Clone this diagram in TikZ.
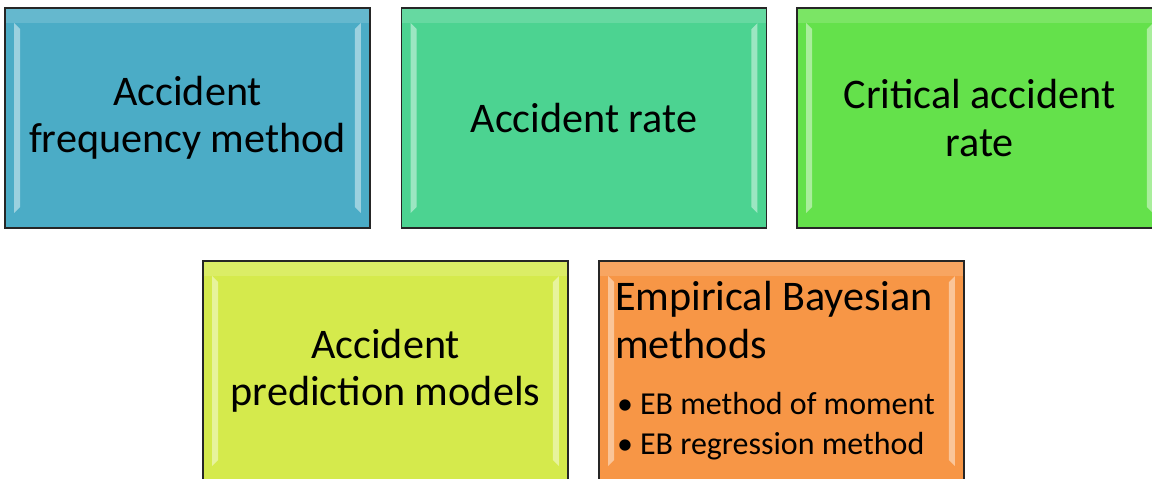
\documentclass[tikz,border=0pt]{standalone}
\usepackage{fontspec}
\setmainfont{Carlito}
\definecolor{freqblue}{RGB}{75,172,198}
\definecolor{rategreen}{RGB}{76,211,145}
\definecolor{critgreen}{RGB}{100,225,75}
\definecolor{predlime}{RGB}{213,234,76}
\definecolor{bayesorange}{RGB}{247,150,70}
\newcommand{\ebitem}{\hspace*{0.04cm}\makebox[0.46cm][l]{\textbullet}}
\tikzset{
tile/.style={
draw=black!85,
line width=1pt,
minimum width=7.3cm,
minimum height=4.4cm,
align=center,
font=\fontsize{24}{27}\selectfont,
path picture={
\fill[white,opacity=0.45]
([xshift=0.18cm,yshift=-0.3cm]path picture bounding box.north west) --
([xshift=0.3cm,yshift=-0.42cm]path picture bounding box.north west) --
([xshift=0.3cm,yshift=0.42cm]path picture bounding box.south west) --
([xshift=0.18cm,yshift=0.3cm]path picture bounding box.south west) -- cycle;
\fill[white,opacity=0.45]
([xshift=-0.18cm,yshift=-0.3cm]path picture bounding box.north east) --
([xshift=-0.3cm,yshift=-0.42cm]path picture bounding box.north east) --
([xshift=-0.3cm,yshift=0.42cm]path picture bounding box.south east) --
([xshift=-0.18cm,yshift=0.3cm]path picture bounding box.south east) -- cycle;
\fill[white,opacity=0.15]
(path picture bounding box.north west) rectangle
([yshift=-0.3cm]path picture bounding box.north east);
}
}
}
\begin{document}
\begin{tikzpicture}[x=0.02cm,y=-0.02cm]

\useasboundingbox (0,0) rectangle (1152,478);

\node[tile,fill=freqblue] (freq) at (187.5,118)
{Accident\\frequency method};

\node[tile,fill=rategreen] (rate) at (584,118)
{Accident rate};

\node[tile,fill=critgreen] (crit) at (979.5,118)
{Critical accident\\rate};

\node[tile,fill=predlime] (pred) at (385.5,371)
{Accident\\prediction models};

\node[tile,fill=bayesorange,text width=6.66cm,align=flush left] (bayes) at (781.5,371)
{Empirical Bayesian\\methods\\[9pt]
{\fontsize{18.2}{23}\selectfont\ebitem EB method of moment\\
\ebitem EB regression method\par}};

\end{tikzpicture}
\end{document}
